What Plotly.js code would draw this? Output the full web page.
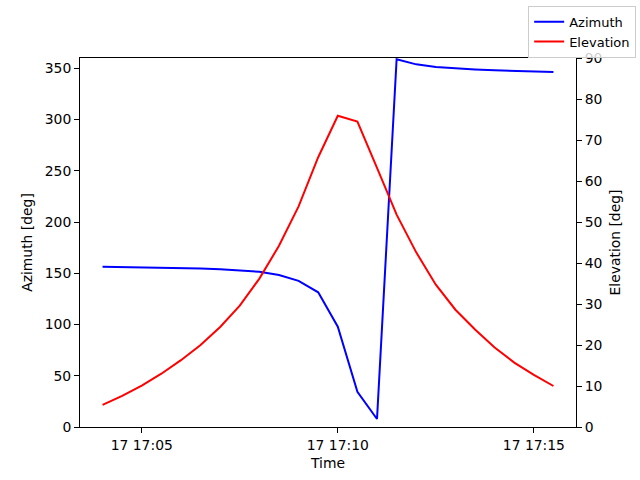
<!DOCTYPE html>
<html>
<head>
<meta charset="utf-8">
<script src="https://cdn.plot.ly/plotly-3.0.1.min.js"></script>
<style>html,body{margin:0;padding:0;background:#fff}#chart{width:640px;height:480px}</style>
</head>
<body>
<div id="chart"></div>
<script>
const times = [
  "2023-01-17 17:04:00","2023-01-17 17:04:30","2023-01-17 17:05:00","2023-01-17 17:05:30",
  "2023-01-17 17:06:00","2023-01-17 17:06:30","2023-01-17 17:07:00","2023-01-17 17:07:30",
  "2023-01-17 17:08:00","2023-01-17 17:08:30","2023-01-17 17:09:00","2023-01-17 17:09:30",
  "2023-01-17 17:10:00","2023-01-17 17:10:30","2023-01-17 17:11:00","2023-01-17 17:11:30",
  "2023-01-17 17:12:00","2023-01-17 17:12:30","2023-01-17 17:13:00","2023-01-17 17:13:30",
  "2023-01-17 17:14:00","2023-01-17 17:14:30","2023-01-17 17:15:00","2023-01-17 17:15:30"
];
const azimuth = [156.3,156.1,155.9,155.6,155.2,154.7,154.0,153.0,151.4,148.3,142.6,131.4,
  97.8,34.4,7.8,358.8,353.8,351.3,349.9,348.9,348.0,347.3,346.8,346.3];
const elevation = [5.4,7.6,10.1,13.0,16.3,20.0,24.4,29.6,36.2,44.2,53.8,65.8,
  75.9,74.5,63.2,51.8,42.6,34.7,28.6,23.8,19.4,15.7,12.7,10.0];
const tickVals = ["2023-01-17 17:05:00","2023-01-17 17:10:00","2023-01-17 17:15:00"];
const xRange = ["2023-01-17 17:03:25.5","2023-01-17 17:16:04.5"];

const font = {family: "DejaVu Sans, sans-serif", size: 13.9, color: "#000"};
const traces = [
  {x: times, y: azimuth, name: "Azimuth", type: "scatter", mode: "lines",
   line: {color: "#0000ff", width: 2}, yaxis: "y"},
  {x: times, y: elevation, name: "Elevation", type: "scatter", mode: "lines",
   line: {color: "#ff0000", width: 2}, yaxis: "y2"}
];
const layout = {
  width: 640, height: 480,
  margin: {l: 80, r: 64, t: 58, b: 53, autoexpand: false},
  paper_bgcolor: "#fff", plot_bgcolor: "#fff",
  font: font,
  showlegend: true,
  legend: {xref: "container", yref: "container", x: 0.994, y: 0.988,
    xanchor: "right", yanchor: "top", bordercolor: "#cccccc", borderwidth: 1,
    bgcolor: "rgba(255,255,255,0.8)",
    font: {family: "DejaVu Sans, sans-serif", size: 13, color: "#000"},
    tracegroupgap: 0, itemwidth: 30},
  xaxis: {type: "date", range: xRange, tickvals: tickVals, tickformat: "%d %H:%M",
    automargin: false,
    showgrid: false, zeroline: false, showline: true, linecolor: "#000", linewidth: 1,
    mirror: true, ticks: "outside", ticklen: 5, tickcolor: "#000",
    title: {text: "Time", font: font, standoff: 6}},
  yaxis: {range: [0, 360], tickvals: [0,50,100,150,200,250,300,350], automargin: false,
    showgrid: false, zeroline: false, showline: true, linecolor: "#000", linewidth: 1,
    ticks: "outside", ticklen: 5, tickcolor: "#000",
    title: {text: "Azimuth [deg]", font: font, standoff: 8}},
  yaxis2: {range: [0, 90], tickvals: [0,10,20,30,40,50,60,70,80,90], overlaying: "y", side: "right",
    automargin: false,
    showgrid: false, zeroline: false, showline: true, linecolor: "#000", linewidth: 1,
    ticks: "outside", ticklen: 5, tickcolor: "#000"},
  annotations: [{text: "Elevation [deg]", xref: "paper", yref: "paper",
    x: 1.0786, y: 0.5, xanchor: "center", yanchor: "middle", textangle: -90,
    showarrow: false, font: font}]
};
Plotly.newPlot("chart", traces, layout, {staticPlot: true, displayModeBar: false});
</script>
</body>
</html>
